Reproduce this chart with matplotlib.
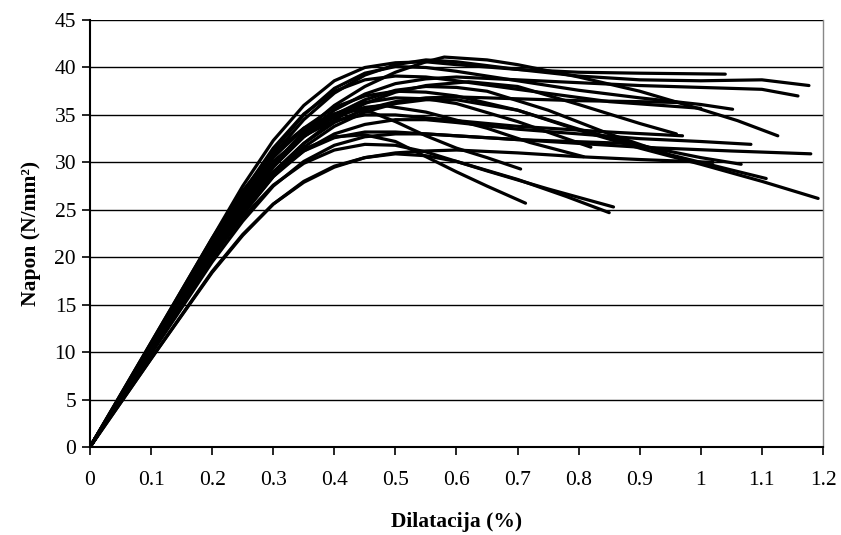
import matplotlib
matplotlib.use("Agg")
import matplotlib.pyplot as plt

# -------------------------
# Data (strain in %, stress in N/mm2)
# -------------------------
curve_a1_x = [0, 0.1, 0.2, 0.25, 0.3, 0.35, 0.4, 0.45, 0.5, 0.55, 0.6, 0.7, 0.8, 0.9, 1.04]
curve_a1_y = [0, 11.0, 22.0, 27.5, 32.3, 36.0, 38.6, 40.0, 40.5, 40.6, 40.3, 39.8, 39.5, 39.4, 39.3]

curve_a2_x = [0, 0.1, 0.2, 0.25, 0.3, 0.35, 0.4, 0.45, 0.5, 0.55, 0.6, 0.7, 0.8, 0.9, 1.0, 1.1, 1.177]
curve_a2_y = [0, 10.6, 21.2, 26.2, 30.8, 34.5, 37.3, 39.2, 40.3, 40.8, 40.6, 39.8, 39.1, 38.7, 38.6, 38.7, 38.1]

curve_a3_x = [0, 0.1, 0.2, 0.25, 0.3, 0.35, 0.4, 0.45, 0.5, 0.55, 0.6, 0.7, 0.8, 0.9, 1.0, 1.1, 1.159]
curve_a3_y = [0, 10.1, 20.4, 25.3, 29.6, 33.0, 35.5, 37.2, 38.3, 38.8, 39.0, 38.7, 38.4, 38.1, 37.9, 37.7, 37.0]

curve_a4_x = [0, 0.1, 0.2, 0.25, 0.3, 0.35, 0.4, 0.45, 0.5, 0.55, 0.58, 0.65, 0.7, 0.8, 0.9, 1.0, 1.06, 1.126]
curve_a4_y = [0, 10.0, 20.2, 25.2, 29.7, 33.3, 36.0, 38.0, 39.5, 40.6, 41.1, 40.8, 40.3, 39.0, 37.5, 35.6, 34.4, 32.8]

curve_a5_x = [0, 0.1, 0.2, 0.25, 0.3, 0.35, 0.4, 0.45, 0.5, 0.55, 0.6, 0.7, 0.8, 0.9, 1.0, 1.052]
curve_a5_y = [0, 10.7, 21.3, 26.5, 31.2, 35.0, 37.8, 39.4, 40.1, 40.0, 39.6, 38.6, 37.6, 36.8, 36.1, 35.6]

curve_a6_x = [0, 0.1, 0.2, 0.25, 0.3, 0.35, 0.4, 0.45, 0.5, 0.55, 0.6, 0.7, 0.8, 0.9, 0.97]
curve_a6_y = [0, 10.2, 20.3, 25.0, 29.0, 32.0, 34.2, 35.6, 36.4, 36.8, 36.9, 36.7, 36.5, 36.4, 36.3]

curve_b1_x = [0, 0.1, 0.2, 0.25, 0.3, 0.35, 0.4, 0.45, 0.5, 0.55, 0.6, 0.7, 0.8, 0.9, 1.0, 1.082]
curve_b1_y = [0, 10.0, 20.0, 24.6, 28.5, 31.2, 33.0, 34.0, 34.5, 34.5, 34.2, 33.5, 33.0, 32.5, 32.2, 31.9]

curve_b2_x = [0, 0.1, 0.2, 0.25, 0.3, 0.35, 0.4, 0.45, 0.5, 0.55, 0.6, 0.75, 0.9, 1.05, 1.18]
curve_b2_y = [0, 9.8, 19.5, 23.8, 27.5, 30.1, 31.8, 32.7, 33.0, 33.0, 32.8, 32.2, 31.6, 31.2, 30.9]

curve_b3_x = [0, 0.1, 0.2, 0.25, 0.3, 0.35, 0.4, 0.45, 0.5, 0.55, 0.6, 0.7, 0.85, 0.97]
curve_b3_y = [0, 10.6, 21.1, 26.0, 30.1, 32.8, 34.4, 35.0, 35.0, 34.7, 34.4, 33.8, 33.2, 32.8]

curve_b4_x = [0, 0.1, 0.2, 0.25, 0.3, 0.35, 0.4, 0.45, 0.5, 0.55, 0.6, 0.7, 0.8, 0.9, 1.0, 1.066]
curve_b4_y = [0, 10.5, 21.0, 26.0, 30.5, 33.6, 35.8, 37.0, 37.5, 37.4, 37.0, 35.5, 33.5, 31.8, 30.5, 29.8]

curve_b5_x = [0, 0.1, 0.2, 0.25, 0.3, 0.35, 0.4, 0.45, 0.5, 0.55, 0.6, 0.65, 0.75, 0.85, 0.95, 1.05, 1.107]
curve_b5_y = [0, 10.2, 20.5, 25.3, 29.5, 32.7, 35.0, 36.6, 37.6, 38.0, 37.9, 37.5, 35.5, 33.0, 30.8, 29.2, 28.3]

curve_b6_x = [0, 0.1, 0.2, 0.25, 0.3, 0.35, 0.4, 0.45, 0.5, 0.55, 0.6, 0.7, 0.8, 0.9, 1.0, 1.1, 1.192]
curve_b6_y = [0, 10.0, 20.0, 24.5, 28.5, 31.6, 33.8, 35.3, 36.2, 36.6, 36.6, 35.5, 33.4, 31.5, 29.8, 28.0, 26.2]

curve_b7_x = [0, 0.1, 0.2, 0.25, 0.3, 0.35, 0.4, 0.45, 0.5, 0.55, 0.6, 0.7, 0.8, 0.9, 1.02]
curve_b7_y = [0, 9.3, 18.4, 22.3, 25.6, 28.0, 29.6, 30.5, 31.0, 31.2, 31.3, 31.0, 30.6, 30.3, 30.0]

curve_b8_x = [0, 0.1, 0.2, 0.25, 0.3, 0.35, 0.4, 0.45, 0.5, 0.55, 0.7, 0.88]
curve_b8_y = [0, 10.3, 20.5, 25.0, 28.8, 31.2, 32.6, 33.2, 33.2, 33.0, 32.4, 32.0]

curve_c1_x = [0, 0.1, 0.2, 0.25, 0.3, 0.35, 0.4, 0.43, 0.46, 0.5, 0.55, 0.6, 0.65, 0.705]
curve_c1_y = [0, 11.0, 22.0, 27.0, 31.0, 33.6, 35.1, 35.5, 35.3, 34.3, 32.8, 31.5, 30.5, 29.3]

curve_c2_x = [0, 0.1, 0.2, 0.25, 0.3, 0.35, 0.4, 0.45, 0.5, 0.55, 0.6, 0.65, 0.713]
curve_c2_y = [0, 10.5, 21.0, 25.5, 29.0, 31.4, 32.7, 32.9, 32.2, 30.6, 29.0, 27.5, 25.7]

curve_c3_x = [0, 0.1, 0.2, 0.25, 0.3, 0.35, 0.4, 0.45, 0.5, 0.55, 0.6, 0.65, 0.75, 0.857]
curve_c3_y = [0, 10.0, 20.0, 24.2, 27.6, 29.9, 31.3, 31.9, 31.8, 31.1, 30.1, 29.1, 27.2, 25.3]

curve_c4_x = [0, 0.1, 0.2, 0.25, 0.3, 0.35, 0.4, 0.45, 0.5, 0.55, 0.6, 0.7, 0.78, 0.85]
curve_c4_y = [0, 9.3, 18.5, 22.4, 25.6, 27.9, 29.5, 30.5, 30.9, 30.7, 30.1, 28.2, 26.4, 24.7]

curve_d1_x = [0, 0.1, 0.2, 0.25, 0.3, 0.35, 0.4, 0.45, 0.5, 0.55, 0.62, 0.7, 0.8, 0.9, 0.96]
curve_d1_y = [0, 10.0, 20.0, 24.7, 28.8, 32.0, 34.5, 36.2, 37.4, 38.1, 38.5, 38.0, 36.1, 34.1, 33.0]

curve_d2_x = [0, 0.1, 0.2, 0.25, 0.3, 0.35, 0.4, 0.45, 0.48, 0.55, 0.65, 0.72, 0.808]
curve_d2_y = [0, 10.3, 20.6, 25.4, 29.6, 32.7, 34.8, 35.8, 36.0, 35.3, 33.6, 32.1, 30.6]

curve_d3_x = [0, 0.1, 0.2, 0.25, 0.3, 0.35, 0.4, 0.45, 0.5, 0.55, 0.6, 0.7, 0.82]
curve_d3_y = [0, 10.4, 20.8, 25.6, 29.8, 33.0, 35.1, 36.3, 36.8, 36.7, 36.2, 34.3, 31.6]

curve_d4_x = [0, 0.1, 0.2, 0.25, 0.3, 0.35, 0.4, 0.45, 0.5, 0.55, 0.6, 0.7, 0.85, 1.0]
curve_d4_y = [0, 10.9, 21.6, 26.8, 31.5, 35.1, 37.5, 38.7, 39.1, 39.0, 38.6, 37.7, 36.4, 35.7]

curves = [
    (curve_a1_x, curve_a1_y), (curve_a2_x, curve_a2_y), (curve_a3_x, curve_a3_y),
    (curve_a4_x, curve_a4_y), (curve_a5_x, curve_a5_y), (curve_a6_x, curve_a6_y),
    (curve_b1_x, curve_b1_y), (curve_b2_x, curve_b2_y), (curve_b3_x, curve_b3_y),
    (curve_b4_x, curve_b4_y), (curve_b5_x, curve_b5_y), (curve_b6_x, curve_b6_y),
    (curve_b7_x, curve_b7_y), (curve_b8_x, curve_b8_y),
    (curve_c1_x, curve_c1_y), (curve_c2_x, curve_c2_y), (curve_c3_x, curve_c3_y),
    (curve_c4_x, curve_c4_y),
    (curve_d1_x, curve_d1_y), (curve_d2_x, curve_d2_y), (curve_d3_x, curve_d3_y),
    (curve_d4_x, curve_d4_y),
]

x_ticks = [0, 0.1, 0.2, 0.3, 0.4, 0.5, 0.6, 0.7, 0.8, 0.9, 1.0, 1.1, 1.2]
x_tick_labels = ["0", "0.1", "0.2", "0.3", "0.4", "0.5", "0.6", "0.7", "0.8", "0.9", "1", "1.1", "1.2"]
y_ticks = [0, 5, 10, 15, 20, 25, 30, 35, 40, 45]

# -------------------------
# Plot
# -------------------------
plt.rcParams["font.family"] = ["Liberation Serif", "DejaVu Serif"]

fig = plt.figure(figsize=(8.41, 5.35), dpi=100)
ax = fig.add_axes([0.107, 0.1645, 0.8716, 0.798])

for y in y_ticks[1:]:
    ax.axhline(y, color="black", lw=1.0, zorder=1)

for cx, cy in curves:
    ax.plot(cx, cy, color="black", lw=2.3, solid_capstyle="round",
            solid_joinstyle="round", zorder=2)

ax.set_xlim(0, 1.2)
ax.set_ylim(0, 45)
ax.set_xticks(x_ticks)
ax.set_xticklabels(x_tick_labels)
ax.set_yticks(y_ticks)
ax.tick_params(axis="both", direction="out", length=6, width=1.2, labelsize=15.5, color="black")
ax.tick_params(axis="x", pad=11)
ax.tick_params(axis="y", pad=4)

ax.spines["left"].set_linewidth(1.5)
ax.spines["bottom"].set_linewidth(1.5)
ax.spines["top"].set_visible(False)
ax.spines["right"].set_color("#888888")
ax.spines["right"].set_linewidth(1.0)

ax.set_xlabel("Dilatacija (%)", fontsize=15.5, fontweight="bold", labelpad=16)
ax.set_ylabel("Napon (N/mm²)", fontsize=15.5, fontweight="bold", labelpad=10)

fig.savefig("out.png", dpi=100)
